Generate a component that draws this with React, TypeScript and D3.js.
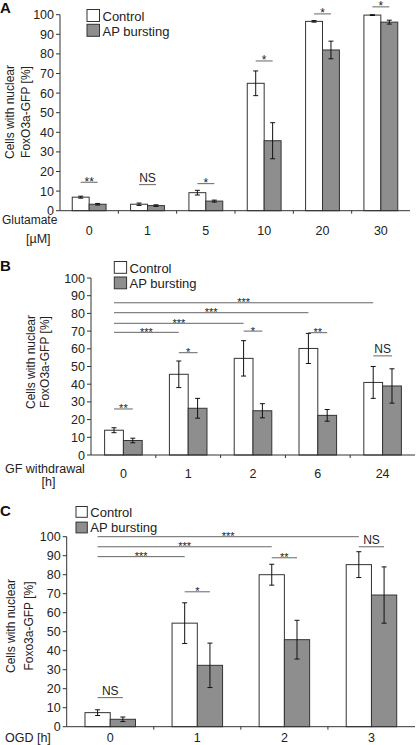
import React from "react";
import * as d3 from "d3";

const FONT = "'Liberation Sans', Arial, Helvetica, sans-serif";

const seriesNames = ["Control", "AP bursting"];
const yTickValues = [0, 10, 20, 30, 40, 50, 60, 70, 80, 90, 100];

type Sig = { from: [number, number]; to: [number, number]; y: number; label: string };

// Panel A: glutamate
const glutamateLevels = ["0", "1", "5", "10", "20", "30"];
const glutControlMean = [6.9, 3.3, 9.2, 65, 96.6, 99.8];
const glutControlErr = [0.5, 0.6, 1.2, 6.3, 0.4, 0.2];
const glutApMean = [3.3, 2.6, 4.9, 35.7, 82, 96.2];
const glutApErr = [0.4, 0.4, 0.5, 9.2, 4.5, 1];
const glutSig: Sig[] = [
  { from: [0, 0], to: [0, 1], y: 14.5, label: "**" },
  { from: [1, 0], to: [1, 1], y: 13.3, label: "NS" },
  { from: [2, 0], to: [2, 1], y: 13.8, label: "*" },
  { from: [3, 0], to: [3, 1], y: 76.4, label: "*" },
  { from: [4, 0], to: [4, 1], y: 100.4, label: "*" },
  { from: [5, 0], to: [5, 1], y: 104, label: "*" },
];

// Panel B: GF withdrawal
const gfHours = ["0", "1", "2", "6", "24"];
const gfControlMean = [14, 45.6, 54.6, 60.2, 41];
const gfControlErr = [1.4, 7.5, 10, 8.5, 9];
const gfApMean = [8.2, 26.4, 25, 22.4, 39];
const gfApErr = [1.3, 5.6, 4, 3.3, 9.7];
const gfSig: Sig[] = [
  { from: [0, 0], to: [0, 1], y: 26, label: "**" },
  { from: [0, 0], to: [1, 0], y: 69.3, label: "***" },
  { from: [0, 0], to: [2, 0], y: 74.4, label: "***" },
  { from: [0, 0], to: [3, 0], y: 80.4, label: "***" },
  { from: [0, 0], to: [4, 0], y: 86, label: "***" },
  { from: [1, 0], to: [1, 1], y: 57.8, label: "*" },
  { from: [2, 0], to: [2, 1], y: 70, label: "*" },
  { from: [3, 0], to: [3, 1], y: 69.1, label: "**" },
  { from: [4, 0], to: [4, 1], y: 56, label: "NS" },
];

// Panel C: OGD
const ogdHours = ["0", "1", "2", "3"];
const ogdControlMean = [7.4, 54.5, 80, 85.3];
const ogdControlErr = [1.5, 10.7, 5.5, 6.8];
const ogdApMean = [3.9, 32.3, 45.8, 69.3];
const ogdApErr = [1.2, 11.7, 10.2, 14.8];
const ogdSig: Sig[] = [
  { from: [0, 0], to: [3, 0], y: 100, label: "***" },
  { from: [0, 0], to: [2, 0], y: 94.7, label: "***" },
  { from: [0, 0], to: [1, 0], y: 89.5, label: "***" },
  { from: [1, 0], to: [1, 1], y: 71, label: "*" },
  { from: [2, 0], to: [2, 1], y: 88.9, label: "**" },
  { from: [3, 0], to: [3, 1], y: 94.7, label: "NS" },
  { from: [0, 0], to: [0, 1], y: 15.3, label: "NS" },
];

type XLab = { text: string; x: number; y: number; size: number };
type Geo = {
  x0: number; x1: number; yBottom: number; yTop: number;
  letter: string; letterY: number;
  legendX: number; legendY: number; legendBox: number; legendGap: number;
  ylab: [string, string]; ylabX: [number, number]; ylabY: number;
  xlab: XLab[];
  tickLabelY: number; sigFont: number;
};

function Panel({ geo, cats, ctrl, ctrlErr, ap, apErr, sig }: {
  geo: Geo; cats: string[]; ctrl: number[]; ctrlErr: number[]; ap: number[]; apErr: number[]; sig: Sig[];
}) {
  const x = d3.scaleBand<string>().domain(cats).range([geo.x0, geo.x1]).padding(0);
  const y = d3.scaleLinear().domain([0, 100]).range([geo.yBottom, geo.yTop]);
  const bw = x.bandwidth();
  const barW = bw * 0.29;
  const barX = (i: number, s: number) => (x(cats[i]) as number) + bw / 2 - barW + s * barW;
  const barC = (i: number, s: number) => barX(i, s) + barW / 2;
  const series = [
    { mean: ctrl, err: ctrlErr, fill: "#ffffff" },
    { mean: ap, err: apErr, fill: "#8e8e8e" },
  ];
  const cap = 2.5;
  return (
    <g>
      <text x={0} y={geo.letterY} fontFamily={FONT} fontWeight="bold" fontSize={15} fill="#111">{geo.letter}</text>
      {series.map((s, si) =>
        cats.map((c, i) => (
          <rect key={`b${si}-${i}`} x={barX(i, si)} y={y(s.mean[i])} width={barW}
            height={y(0) - y(s.mean[i])} fill={s.fill} stroke="#333" strokeWidth={1} />
        ))
      )}
      {series.map((s, si) =>
        cats.map((c, i) => {
          const cx = barC(i, si);
          const lo = y(s.mean[i] - s.err[i]);
          const hi = y(s.mean[i] + s.err[i]);
          return (
            <g key={`e${si}-${i}`} stroke="#111" strokeWidth={1}>
              <line x1={cx} x2={cx} y1={lo} y2={hi} />
              <line x1={cx - cap} x2={cx + cap} y1={lo} y2={lo} />
              <line x1={cx - cap} x2={cx + cap} y1={hi} y2={hi} />
            </g>
          );
        })
      )}
      <line x1={geo.x0} x2={geo.x0} y1={y(0)} y2={y(100)} stroke="#333" strokeWidth={1} />
      <line x1={geo.x0} x2={geo.x1} y1={y(0)} y2={y(0)} stroke="#333" strokeWidth={1} />
      {yTickValues.map((t) => (
        <g key={`yt${t}`}>
          <line x1={geo.x0 - 4} x2={geo.x0} y1={y(t)} y2={y(t)} stroke="#333" strokeWidth={1} />
          <text x={geo.x0 - 6} y={y(t)} dy="0.36em" textAnchor="end" fontFamily={FONT} fontSize={12.5} fill="#222">{t}</text>
        </g>
      ))}
      {cats.map((c, i) => (
        <g key={`xt${c}`}>
          {i > 0 && <line x1={x(c)} x2={x(c)} y1={y(0)} y2={y(0) + 3} stroke="#333" strokeWidth={1} />}
          <text x={(x(c) as number) + bw / 2} y={geo.tickLabelY} textAnchor="middle" fontFamily={FONT} fontSize={12.5} fill="#222">{c}</text>
        </g>
      ))}
      {sig.map((s, k) => {
        const xa = barC(s.from[0], s.from[1]);
        const xb = barC(s.to[0], s.to[1]);
        const ly = y(s.y);
        const isStar = s.label.includes("*");
        return (
          <g key={`s${k}`}>
            <line x1={xa} x2={xb} y1={ly} y2={ly} stroke="#666" strokeWidth={1} />
            <text x={(xa + xb) / 2} y={isStar ? ly + 3.5 : ly - 2.5} textAnchor="middle"
              fontFamily={FONT} fontSize={isStar ? geo.sigFont : 12} fill="#222">{s.label}</text>
          </g>
        );
      })}
      {seriesNames.map((n, i) => (
        <g key={`l${i}`}>
          <rect x={geo.legendX} y={geo.legendY + i * geo.legendGap} width={geo.legendBox} height={geo.legendBox - 0.5}
            fill={series[i].fill} stroke="#333" strokeWidth={1} />
          <text x={geo.legendX + geo.legendBox + 3} y={geo.legendY + i * geo.legendGap + geo.legendBox - 1}
            fontFamily={FONT} fontSize={13} fill="#222">{n}</text>
        </g>
      ))}
      {geo.ylab.map((t, i) => (
        <text key={`yl${i}`} transform={`translate(${geo.ylabX[i]},${geo.ylabY}) rotate(-90)`} dy="0.35em"
          textAnchor="middle" fontFamily={FONT} fontSize={12} fill="#222">{t}</text>
      ))}
      {geo.xlab.map((l, i) => (
        <text key={`xl${i}`} x={l.x} y={l.y} fontFamily={FONT} fontSize={l.size} fill="#222">{l.text}</text>
      ))}
    </g>
  );
}

const geoA: Geo = {
  x0: 60, x1: 410, yBottom: 210.7, yTop: 14.7, letter: "A", letterY: 13,
  legendX: 87, legendY: 9.5, legendBox: 12.5, legendGap: 14.8,
  ylab: ["Cells with nuclear", "FoxO3a-GFP [%]"], ylabX: [10, 26], ylabY: 112,
  xlab: [
    { text: "Glutamate", x: 2, y: 224, size: 12 },
    { text: "[µM]", x: 26, y: 243, size: 12.5 },
  ],
  tickLabelY: 235, sigFont: 12,
};
const geoB: Geo = {
  x0: 91, x1: 415, yBottom: 455, yTop: 278, letter: "B", letterY: 271,
  legendX: 114.3, legendY: 261.5, legendBox: 12.3, legendGap: 15.5,
  ylab: ["Cells with nuclear", "FoxO3a-GFP [%]"], ylabX: [31, 45], ylabY: 362,
  xlab: [
    { text: "GF withdrawal", x: 5, y: 472.5, size: 12.5 },
    { text: "[h]", x: 41.5, y: 486, size: 12.5 },
  ],
  tickLabelY: 478, sigFont: 11,
};
const geoC: Geo = {
  x0: 66.7, x1: 415, yBottom: 726.7, yTop: 536.7, letter: "C", letterY: 516,
  legendX: 76, legendY: 506.5, legendBox: 11.3, legendGap: 15.6,
  ylab: ["Cells with nuclear", "Foxo3a-GFP [%]"], ylabX: [11, 29], ylabY: 626,
  xlab: [{ text: "OGD [h]", x: 5, y: 742, size: 12.5 }],
  tickLabelY: 742, sigFont: 11,
};

export default function App() {
  return (
    <svg width={416} height={745} style={{ position: "absolute", left: 0, top: 0, background: "#fff" }}>
      <rect x={0} y={0} width={416} height={745} fill="#fff" />
      <Panel geo={geoA} cats={glutamateLevels} ctrl={glutControlMean} ctrlErr={glutControlErr} ap={glutApMean} apErr={glutApErr} sig={glutSig} />
      <Panel geo={geoB} cats={gfHours} ctrl={gfControlMean} ctrlErr={gfControlErr} ap={gfApMean} apErr={gfApErr} sig={gfSig} />
      <Panel geo={geoC} cats={ogdHours} ctrl={ogdControlMean} ctrlErr={ogdControlErr} ap={ogdApMean} apErr={ogdApErr} sig={ogdSig} />
    </svg>
  );
}
